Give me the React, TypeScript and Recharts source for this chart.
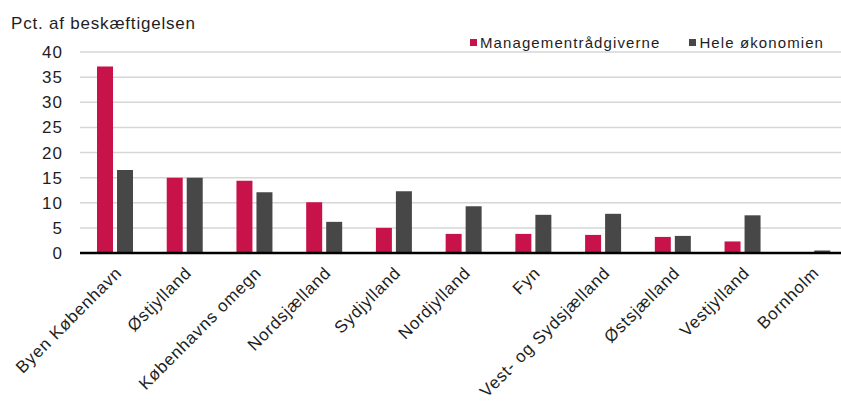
import { BarChart, Bar, XAxis, YAxis, CartesianGrid } from 'recharts';

const regions = [
  'Byen København',
  'Østjylland',
  'Københavns omegn',
  'Nordsjælland',
  'Sydjylland',
  'Nordjylland',
  'Fyn',
  'Vest- og Sydsjælland',
  'Østsjælland',
  'Vestjylland',
  'Bornholm',
];
const managementValues = [37.1, 15.0, 14.4, 10.1, 5.0, 3.8, 3.8, 3.6, 3.2, 2.3, 0];
const economyValues = [16.5, 15.0, 12.1, 6.2, 12.3, 9.3, 7.6, 7.8, 3.4, 7.5, 0.5];
const yTicks = [0, 5, 10, 15, 20, 25, 30, 35, 40];

const RED = '#C8134A';
const GRAY = '#474747';
const TEXT = '#1e1e1e';
const FONT = '"Liberation Sans", Arial, sans-serif';

const data = regions.map((region, i) => ({
  region,
  management: managementValues[i],
  economy: economyValues[i],
}));

// rotated category labels, right end hangs just below the tick
function RotatedTick(props: any) {
  const { x, y, payload } = props;
  const tx = x + 8;
  const ty = y + 13;
  return (
    <text
      x={tx}
      y={ty}
      textAnchor="end"
      fontSize={17}
      fontFamily={FONT}
      letterSpacing={0.8}
      fill={TEXT}
      transform={`rotate(-45, ${tx}, ${ty})`}
    >
      {payload.value}
    </text>
  );
}

function LegendBox() {
  const item = (color: string, label: string, ml: number) => (
    <span style={{ display: 'inline-flex', alignItems: 'center', marginLeft: ml }}>
      <span style={{ width: 7, height: 7, background: color, display: 'inline-block', marginRight: 3 }} />
      {label}
    </span>
  );
  return (
    <div
      style={{
        position: 'absolute',
        left: 470,
        top: 33,
        fontFamily: FONT,
        fontSize: 15,
        lineHeight: '15px',
        letterSpacing: 1.1,
        color: TEXT,
        whiteSpace: 'nowrap',
      }}
    >
      {item(RED, 'Managementrådgiverne', 0)}
      {item(GRAY, 'Hele økonomien', 29)}
    </div>
  );
}

export default function App() {
  return (
    <div style={{ position: 'absolute', left: 0, top: 0, width: 841, height: 403, background: '#fff', overflow: 'hidden' }}>
      <div
        style={{
          position: 'absolute',
          left: 11,
          top: 15,
          fontFamily: FONT,
          fontSize: 17,
          lineHeight: '17px',
          letterSpacing: 0.8,
          color: TEXT,
          whiteSpace: 'nowrap',
        }}
      >
        Pct. af beskæftigelsen
      </div>
      <LegendBox />
      <BarChart
        width={841}
        height={403}
        data={data}
        margin={{ top: 52, right: -6, left: 0, bottom: 0 }}
        barSize={16}
        barGap={4}
      >
        <CartesianGrid vertical={false} stroke="#d6d6d6" strokeWidth={1.5} />
        <XAxis
          dataKey="region"
          interval={0}
          height={150}
          tickLine={false}
          axisLine={{ stroke: '#000', strokeWidth: 2.5 }}
          tick={<RotatedTick />}
        />
        <YAxis
          width={80}
          domain={[0, 40]}
          ticks={yTicks}
          axisLine={false}
          tickLine={false}
          tickSize={0}
          tickMargin={17}
          tick={{ fontSize: 17, fontFamily: FONT, fill: TEXT, letterSpacing: 1 }}
        />
        <Bar dataKey="management" fill={RED} isAnimationActive={false} />
        <Bar dataKey="economy" fill={GRAY} isAnimationActive={false} />
      </BarChart>
    </div>
  );
}
